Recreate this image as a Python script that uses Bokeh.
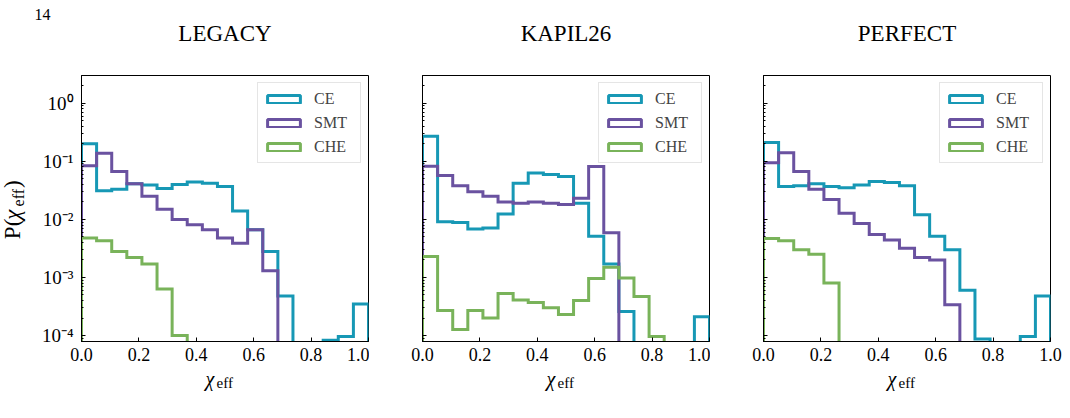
import math
from bokeh.plotting import figure
from bokeh.layouts import row, column
from bokeh.models import (Range1d, FixedTicker, CustomJSTickFormatter, Legend,
                          LegendItem)
from bokeh.core.properties import value
from bokeh.embed import file_html
from bokeh.resources import INLINE

# ---------------- data ----------------
bin_edges = [0.0, 0.0526, 0.1053, 0.1579, 0.2105, 0.2632, 0.3158, 0.3684, 0.4211,
             0.4737, 0.5263, 0.5789, 0.6316, 0.6842, 0.7368, 0.7895, 0.8421,
             0.8947, 0.9474, 1.0]

panel_titles = ["LEGACY", "KAPIL26", "PERFECT"]
series_names = ["CE", "SMT", "CHE"]

legacy_ce = [0.20, 0.031, 0.033, 0.041, 0.039, 0.034, 0.040, 0.044, 0.042, 0.037,
             0.014, 0.0066, 0.0028, 0.00048, 0, 0, 8.3e-5, 9.6e-5, 3.5e-4]
legacy_smt = [0.084, 0.138, 0.067, 0.041, 0.025, 0.015, 0.010, 0.0081, 0.0066, 0.0048,
              0.0039, 0.0066, 0.0013, 0, 0, 0, 0, 0, 0]
legacy_che = [0.0048, 0.0043, 0.0028, 0.0022, 0.0017, 0.00063, 0.0001, 0, 0, 0,
              0, 0, 0, 0, 0, 0, 0, 0, 0]

kapil_ce = [0.27, 0.0091, 0.0088, 0.0068, 0.0071, 0.0124, 0.042, 0.063, 0.059, 0.055,
            0.019, 0.0051, 0.0017, 2.6e-4, 0, 0, 0, 0, 2.1e-4]
kapil_smt = [0.082, 0.057, 0.038, 0.030, 0.025, 0.020, 0.019, 0.020, 0.019, 0.018,
             0.023, 0.081, 0.0059, 0, 0, 0, 0, 0, 0]
kapil_che = [0.0023, 2.7e-4, 1.27e-4, 2.7e-4, 2.0e-4, 5.3e-4, 4.1e-4, 3.7e-4, 3.0e-4,
             2.3e-4, 4.0e-4, 9.6e-4, 0.0015, 9.8e-4, 4.7e-4, 9.6e-5, 0, 0, 0]

perfect_ce = [0.21, 0.037, 0.038, 0.041, 0.037, 0.035, 0.039, 0.045, 0.043, 0.038,
              0.012, 0.0051, 0.0030, 6.0e-4, 8.7e-5, 0, 0, 9.6e-5, 4.8e-4]
perfect_smt = [0.094, 0.14, 0.067, 0.033, 0.022, 0.0127, 0.0085, 0.0055, 0.0044, 0.0032,
               0.0022, 0.0020, 3.4e-4, 0, 0, 0, 0, 0, 0]
perfect_che = [0.0047, 0.0043, 0.0030, 0.0025, 8.0e-4, 0, 0, 0, 0, 0,
               0, 0, 0, 0, 0, 0, 0, 0, 0]

x_ticks = [0.0, 0.2, 0.4, 0.6, 0.8, 1.0]
x_tick_labels = ["0.0", "0.2", "0.4", "0.6", "0.8", "1.0"]
y_ticks = [1e-4, 1e-3, 1e-2, 1e-1, 1e0]
y_tick_labels = ["10\u207b\u2074", "10\u207b\u00b3", "10\u207b\u00b2", "10\u207b\u00b9", "10\u2070"]

page_number = "14"
x_label_main, x_label_sub = "\u03c7", "eff"
y_label_parts = ["P(", "\u03c7", "eff", ")"]

# ---------------- style / layout ----------------
COLORS = ["#1798b5", "#6a52a0", "#79b35a"]
FONT = "Liberation Serif"
FLOOR = 1e-7
Y_MIN, Y_MAX = 7.9e-5, 3.0

W = 1070
TOP_H = 50          # strip with page number and panel titles
FRAME_W, FRAME_H = 287, 266
MID_TOP, MID_BOT = 25, 26
MID_H = MID_TOP + FRAME_H + MID_BOT
BOT_H = 418 - TOP_H - MID_H   # strip with x-axis labels
YLAB_W = 32
LEFTS = [49, 53, 53]
RIGHTS = [1, 1, 20]

panels = [
    (legacy_ce, legacy_smt, legacy_che),
    (kapil_ce, kapil_smt, kapil_che),
    (perfect_ce, perfect_smt, perfect_che),
]

# frame left edges on the page
frame_lefts = []
acc = YLAB_W
for l, r in zip(LEFTS, RIGHTS):
    frame_lefts.append(acc + l)
    acc += l + FRAME_W + r


def step_path(edges, vals):
    xs, ys = [edges[0]], [FLOOR]
    for i, v in enumerate(vals):
        v = v if v > 0 else FLOOR
        xs += [edges[i], edges[i + 1]]
        ys += [v, v]
    xs.append(edges[-1])
    ys.append(FLOOR)
    return xs, ys


def blank(w, h):
    b = figure(width=w, height=h, x_range=Range1d(0, w), y_range=Range1d(0, h),
               output_backend="svg", toolbar_location=None,
               x_axis_location=None, y_axis_location=None,
               min_border=0, outline_line_color=None)
    b.grid.visible = False
    b.background_fill_color = "white"
    b.border_fill_color = "white"
    return b


x_fmt = CustomJSTickFormatter(args=dict(tvals=x_ticks, tlabels=x_tick_labels), code="""
const i = tvals.findIndex(t => Math.abs(t - tick) < 1e-9);
return i >= 0 ? tlabels[i] : "";
""")
y_fmt = CustomJSTickFormatter(args=dict(tvals=y_ticks, tlabels=y_tick_labels), code="""
const i = tvals.findIndex(t => Math.abs(Math.log10(t) - Math.log10(tick)) < 1e-6);
return i >= 0 ? tlabels[i] : "";
""")
blank_fmt = CustomJSTickFormatter(code="return '';")

minor = [m * 10.0 ** e for e in range(-5, 1) for m in range(2, 10)]

# ---------------- top strip: page number + titles ----------------
top = blank(W, TOP_H)
top.text(x=[34], y=[TOP_H - 20 + 6], text=[page_number], text_font=value(FONT),
         text_font_size="16px", text_baseline="alphabetic", text_align="left",
         text_color="black")
top.text(x=[fl + FRAME_W / 2 for fl in frame_lefts], y=[TOP_H - 40 + 7] * 3,
         text=panel_titles, text_font=value(FONT), text_font_size="23px",
         text_baseline="alphabetic", text_align="center", text_color="black")

# ---------------- y label strip ----------------
ylab = blank(YLAB_W, MID_H)
page_bottom = TOP_H + MID_H
ylab_specs = [(y_label_parts[0], 12, 245, "23px", "normal"),
              (y_label_parts[1], 12, 222, "23px", "italic"),
              (y_label_parts[2], 18, 206, "16px", "normal"),
              (y_label_parts[3], 12, 184, "23px", "normal")]
for txt, sx, sy, fs, st in ylab_specs:
    ylab.text(x=[sx], y=[page_bottom - sy], text=[txt], angle=math.pi / 2,
              text_font=value(FONT), text_font_style=st, text_font_size=fs,
              text_baseline="alphabetic", text_align="left", text_color="black")

# ---------------- panels ----------------
figs = [ylab]
for k, series in enumerate(panels):
    first = k == 0
    p = figure(frame_width=FRAME_W, frame_height=FRAME_H,
               x_range=Range1d(0, 1), y_range=Range1d(Y_MIN, Y_MAX),
               y_axis_type="log", output_backend="svg", toolbar_location=None,
               min_border_top=MID_TOP, min_border_bottom=MID_BOT,
               min_border_left=LEFTS[k], min_border_right=RIGHTS[k])
    p.grid.visible = False
    p.outline_line_color = "black"
    p.outline_line_width = 1
    p.outline_line_alpha = 1
    p.background_fill_color = "white"
    p.border_fill_color = "white"

    xa = p.xaxis[0]
    xa.ticker = FixedTicker(ticks=x_ticks)
    xa.formatter = x_fmt
    xa.major_tick_in = 4
    xa.major_tick_out = 0
    xa.minor_tick_in = 0
    xa.minor_tick_out = 0
    xa.major_label_standoff = 6
    xa.major_label_text_font = FONT
    xa.major_label_text_font_size = "18px"
    xa.major_label_text_color = "black"
    xa.axis_line_color = "black"
    xa.major_tick_line_color = "black"

    ya = p.yaxis[0]
    ya.ticker = FixedTicker(ticks=y_ticks, minor_ticks=minor)
    ya.formatter = y_fmt if first else blank_fmt
    ya.major_tick_in = 4
    ya.major_tick_out = 0
    ya.minor_tick_in = 2
    ya.minor_tick_out = 0
    ya.major_label_standoff = 8
    ya.major_label_text_font = FONT
    ya.major_label_text_font_size = "19px"
    ya.major_label_text_color = "black"
    ya.axis_line_color = "black"
    ya.major_tick_line_color = "black"
    ya.minor_tick_line_color = "black"

    items = []
    for name, vals, col in zip(series_names, series, COLORS):
        xs, ys = step_path(bin_edges, vals)
        p.line(xs, ys, line_color=col, line_width=3, line_join="miter")
        q = p.quad(left=bin_edges[:-1], right=bin_edges[1:],
                   top=[v if v > 0 else FLOOR for v in vals], bottom=FLOOR,
                   fill_color=None, line_color=col, line_width=3, visible=False)
        items.append(LegendItem(label=name, renderers=[q]))
    leg = Legend(items=items, location="top_right", margin=7, padding=5,
                 spacing=3, label_height=21, glyph_height=10, glyph_width=41,
                 label_standoff=10, label_width=41,
                 label_text_font=FONT, label_text_font_size="16px",
                 border_line_color="#cccccc", border_line_width=1,
                 background_fill_color="white", background_fill_alpha=0.8,
                 inactive_fill_alpha=0)
    p.add_layout(leg)
    figs.append(p)

# ---------------- bottom strip: x labels ----------------
bot = blank(W, BOT_H)
bot.text(x=[fl + 124 for fl in frame_lefts], y=[418 - 385 + 7] * 3,
         text=[x_label_main] * 3, text_font=value(FONT), text_font_style="italic",
         text_font_size="20px", text_baseline="alphabetic", text_align="left",
         text_color="black")
bot.text(x=[fl + 135 for fl in frame_lefts], y=[418 - 387 + 5] * 3,
         text=[x_label_sub] * 3, text_font=value(FONT),
         text_font_size="15px", text_baseline="alphabetic", text_align="left",
         text_color="black")

layout = column(top, row(*figs), bot)
open("out.html", "w").write(file_html(layout, INLINE))
